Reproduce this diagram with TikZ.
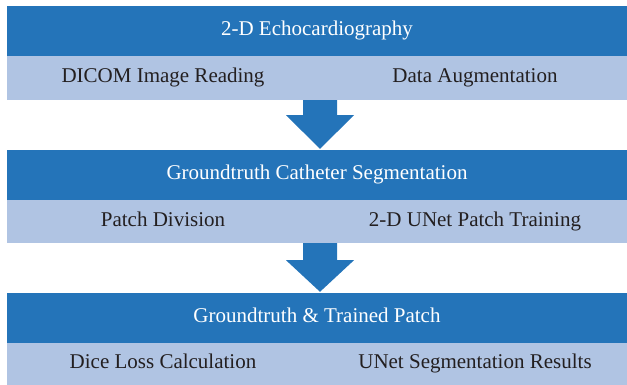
\documentclass[tikz,border=0pt]{standalone}
\usepackage{fontspec}
\setmainfont{Liberation Serif}
\usepackage{tikz}
\usetikzlibrary{positioning,calc}
\definecolor{stepblue}{RGB}{36,116,185}
\definecolor{subblue}{RGB}{176,196,227}
\definecolor{subtext}{RGB}{35,31,32}

\begin{document}
\begin{tikzpicture}[x=1pt, y=-1pt,
    head/.style={fill=stepblue, text=white, minimum width=620pt, minimum height=50pt, inner sep=0pt, text height=14pt, text depth=5pt, font=\fontsize{21}{24}\selectfont},
    sub/.style={fill=subblue, minimum width=620pt, inner sep=0pt},
    subtxt/.style={text=subtext, text height=14pt, text depth=5pt, font=\fontsize{21}{24}\selectfont},
    blockarrow/.style={fill=stepblue}]
    \useasboundingbox (0,0) rectangle (627,385);
    % Stage 1
    \node[head] (d1) at (317,31) {2-D Echocardiography};
    \node[sub, minimum height=44pt] (l1) at (317,78) {};
    \node[subtxt] (t11) at (163,78) {DICOM Image Reading};
    \node[subtxt] (t12) at (475,78) {Data Augmentation};
    % Stage 2
    \node[head] (d2) at (317,175) {Groundtruth Catheter Segmentation};
    \node[sub, minimum height=43pt] (l2) at (317,221.5) {};
    \node[subtxt] (t21) at (163,221.5) {Patch Division};
    \node[subtxt] (t22) at (475,221.5) {2-D UNet Patch Training};
    % Stage 3
    \node[head] (d3) at (317,318) {Groundtruth \& Trained Patch};
    \node[sub, minimum height=42pt] (l3) at (317,364) {};
    \node[subtxt] (t31) at (163,364) {Dice Loss Calculation};
    \node[subtxt] (t32) at (475,364) {UNet Segmentation Results};
    % Arrows
    \fill[blockarrow] ($(l1.south)+(-14,0)$) -- ($(l1.south)+(20,0)$) -- ($(l1.south)+(20,15)$) -- ($(l1.south)+(37,15)$)
        -- ($(d2.north)+(3,-1)$) -- ($(l1.south)+(-31,15)$) -- ($(l1.south)+(-14,15)$) -- cycle;
    \fill[blockarrow] ($(l2.south)+(-14,0)$) -- ($(l2.south)+(20,0)$) -- ($(l2.south)+(20,17)$) -- ($(l2.south)+(37,17)$)
        -- ($(d3.north)+(3,-1)$) -- ($(l2.south)+(-31,17)$) -- ($(l2.south)+(-14,17)$) -- cycle;
\end{tikzpicture}
\end{document}
